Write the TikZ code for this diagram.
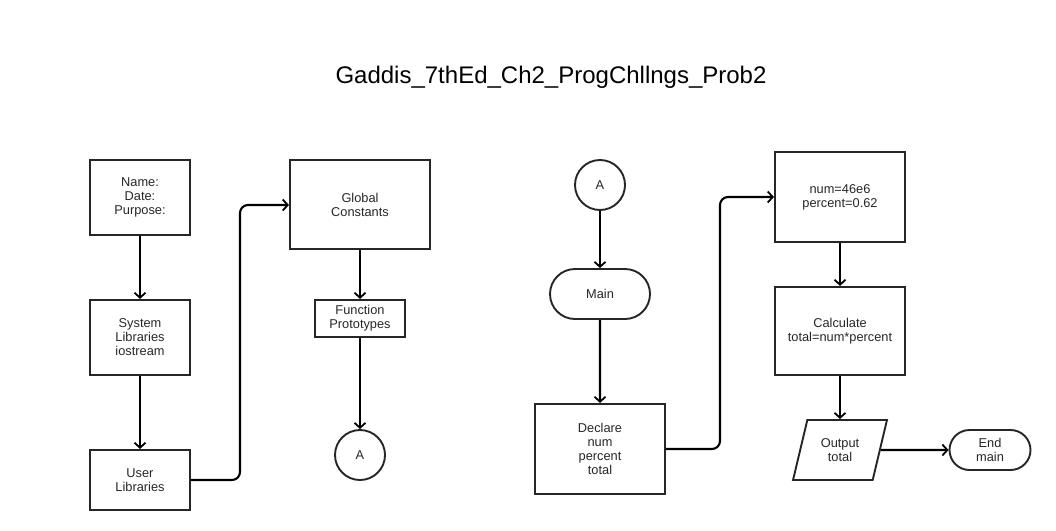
\documentclass[tikz,border=0pt]{standalone}
\usepackage{fontspec}
\setmainfont{Liberation Sans}
\usetikzlibrary{arrows.meta,shapes.geometric,shapes.misc}
\begin{document}
\begin{tikzpicture}[x=1pt,y=-1pt,
  every node/.style={font=\fontsize{12.8}{14}\selectfont, text=black!85, align=center, inner sep=0pt},
  box/.style={draw=black!85, line width=2.1pt},
  roundbox/.style={draw=black!85, line width=1.9pt},
  flow/.style={draw=black, line width=2.1pt, -{Straight Barb[length=5pt,width=11pt,line width=1.8pt]}, rounded corners=8pt}
]
\useasboundingbox (0,0) rectangle (1056,530);
\node[font=\fontsize{24}{28}\selectfont, text=black] (title) at (551,77) {Gaddis\_7thEd\_Ch2\_ProgChllngs\_Prob2};

\node[box, minimum width=100pt, minimum height=75pt] (name) at (140,197.5) {Name:\\Date:\\Purpose:};
\node[box, minimum width=100pt, minimum height=75pt] (sys) at (140,337.5) {System\\Libraries\\iostream};
\node[box, minimum width=100pt, minimum height=60pt] (user) at (140,480) {User\\Libraries};
\node[box, minimum width=140pt, minimum height=89pt] (glob) at (360,204.5) {Global\\Constants};
\node[box, minimum width=90pt, minimum height=37pt] (proto) at (360,318.5) {Function\\Prototypes};
\node[roundbox, circle, minimum size=50pt] (a1) at (360,455) {A};

\node[roundbox, circle, minimum size=50pt] (a2) at (600,185) {A};
\node[roundbox, rounded rectangle, minimum width=100pt, minimum height=50pt] (main) at (600,294) {Main};
\node[box, minimum width=130pt, minimum height=90pt] (decl) at (600,449) {Declare\\num\\percent\\total};
\node[box, minimum width=130pt, minimum height=90pt] (vals) at (840,197) {num=46e6\\percent=0.62};
\node[box, minimum width=130pt, minimum height=88pt] (calc) at (840,331) {Calculate\\total=num*percent};
\node[roundbox, trapezium, trapezium left angle=70, trapezium right angle=110, minimum width=94pt, minimum height=60pt, trapezium stretches=true] (out) at (840,450) {Output\\total};
\node[roundbox, rounded rectangle, minimum width=81pt, minimum height=40pt] (end) at (990,450) {End\\main};

\draw[flow] (name) -- (sys);
\draw[flow] (sys) -- (user);
\draw[flow] (user.east) -- (240,480) -- (240,205) -- (glob.west |- 0,205);
\draw[flow] (glob) -- (proto);
\draw[flow] (proto) -- (a1);
\draw[flow] (a2) -- (main);
\draw[flow] (main) -- (decl);
\draw[flow] (decl.east) -- (720,449) -- (720,197) -- (vals.west);
\draw[flow] (vals) -- (calc);
\draw[flow] (calc) -- (out);
\draw[flow] (out.east) -- (end.west);
\end{tikzpicture}
\end{document}
